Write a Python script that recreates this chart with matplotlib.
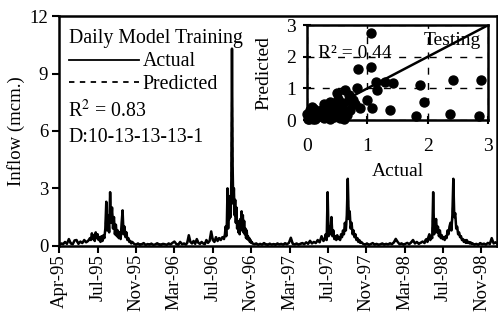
import numpy as np
import matplotlib
matplotlib.use('Agg')
import matplotlib.pyplot as plt

plt.rcParams['font.family'] = ['Liberation Serif', 'DejaVu Serif']
plt.rcParams['mathtext.fontset'] = 'stix'

#################################################################################
# data : daily inflow (days counted from 1-Apr-1995)
#################################################################################
days = np.concatenate([np.arange(0, 97, 6), np.arange(99, 229, 3), np.arange(234, 397, 6),
                       np.arange(400, 516, 5), np.arange(518, 605, 2), np.arange(610, 827, 6),
                       np.arange(830, 945, 3), np.arange(950, 1143, 6), np.arange(1145, 1290, 3),
                       np.arange(1292, 1371, 6)])

actual = [
    # Apr-95 .. Jul-95
    0.05, 0.12, 0.08, 0.20, 0.10, 0.35, 0.12, 0.08, 0.28, 0.30, 0.10, 0.22, 0.14, 0.30, 0.18, 0.25, 0.40,
    # 1995 flood
    0.3, 0.65, 0.35, 0.55, 0.25, 0.7, 0.4, 0.6, 0.3, 0.45,
    0.2, 0.5, 0.25, 0.55, 0.4, 0.9, 2.3, 0.8, 1.6, 0.7,
    2.8, 1.2, 2.0, 0.9, 1.5, 0.6, 1.1, 0.5, 0.8, 0.4,
    0.7, 0.35, 1.2, 1.85, 0.6, 1.0, 0.45, 0.7, 0.3, 0.4,
    0.2, 0.25, 0.12, 0.2,
    # dry season 95/96
    0.10, 0.06, 0.12, 0.05, 0.08, 0.14, 0.04, 0.09, 0.06, 0.11,
    0.05, 0.07, 0.13, 0.06, 0.04, 0.10, 0.08, 0.05, 0.12, 0.07,
    0.15, 0.22, 0.09, 0.05, 0.20, 0.08, 0.12, 0.06,
    0.15, 0.55, 0.2, 0.12, 0.25, 0.1, 0.35, 0.15, 0.1, 0.2,
    0.12, 0.08, 0.3, 0.15, 0.25, 0.75, 0.3, 0.2, 0.45, 0.25,
    0.4, 0.3, 0.45, 0.35,
    # 1996 flood
    0.6, 1.0, 0.5, 1.2, 3.0, 0.9, 2.2, 1.4, 2.6, 1.5,
    3.5, 10.3, 4.2, 2.2, 3.0, 1.6, 2.4, 1.2, 2.0, 0.9,
    1.3, 0.7, 1.0, 0.6, 1.4, 0.8, 1.8, 1.1, 1.6, 0.7,
    1.3, 0.6, 0.9, 0.4, 0.8, 0.35, 0.5, 0.3, 0.4, 0.2,
    0.3, 0.15, 0.2, 0.12,
    # dry season 96/97
    0.08, 0.12, 0.05, 0.10, 0.06, 0.14, 0.07, 0.05, 0.11, 0.06,
    0.09, 0.05, 0.12, 0.07, 0.10, 0.06, 0.13, 0.08, 0.15, 0.42,
    0.10, 0.07, 0.12, 0.06, 0.10, 0.14, 0.08, 0.18, 0.10, 0.26,
    0.12, 0.20, 0.14, 0.30, 0.18, 0.50, 0.25,
    # 1997 flood
    0.35, 0.6, 0.3, 2.8, 0.5, 1.0, 0.6, 1.5, 0.5, 0.8,
    0.35, 0.5, 0.3, 0.55, 0.35, 0.45, 0.3, 0.6, 0.45, 0.8,
    0.6, 1.2, 0.8, 1.6, 3.5, 1.4, 1.8, 0.9, 1.2, 0.6,
    0.8, 0.45, 0.6, 0.3, 0.4, 0.2, 0.3, 0.15, 0.2,
    # dry season 97/98
    0.10, 0.06, 0.12, 0.05, 0.09, 0.14, 0.06, 0.10, 0.05, 0.08,
    0.12, 0.06, 0.10, 0.07, 0.13, 0.08, 0.18, 0.36, 0.20, 0.08,
    0.12, 0.06, 0.10, 0.15, 0.08, 0.18, 0.30, 0.12, 0.20, 0.10,
    0.16, 0.22, 0.14,
    # 1998 flood
    0.3, 0.35, 0.2, 0.45, 0.6, 0.3, 0.5, 0.4, 2.8, 0.6,
    0.9, 1.4, 0.7, 1.0, 0.5, 0.8, 0.4, 0.55, 0.35, 0.45,
    0.3, 0.5, 0.4, 0.8, 0.6, 1.0, 1.2, 0.8, 1.6, 3.5,
    1.5, 1.7, 0.9, 1.0, 0.6, 0.7, 0.45, 0.5, 0.3, 0.35,
    0.2, 0.3, 0.15, 0.3, 0.15, 0.2, 0.12, 0.18, 0.1,
    # Oct-98 .. Dec-98
    0.12, 0.06, 0.10, 0.05, 0.14, 0.08, 0.11, 0.06, 0.15, 0.09, 0.40, 0.12, 0.18, 0.10,
]

predicted = [
    0.08, 0.10, 0.12, 0.15, 0.14, 0.28, 0.16, 0.12, 0.20, 0.24, 0.14, 0.20, 0.18, 0.25, 0.20, 0.26, 0.35,
    0.35, 0.5, 0.4, 0.5, 0.35, 0.6, 0.45, 0.55, 0.4, 0.45,
    0.3, 0.45, 0.3, 0.5, 0.45, 0.8, 1.9, 1.0, 1.5, 0.9,
    2.4, 1.4, 1.8, 1.1, 1.3, 0.8, 1.0, 0.7, 0.8, 0.6,
    0.7, 0.5, 1.0, 1.6, 0.8, 0.9, 0.6, 0.6, 0.4, 0.4,
    0.3, 0.25, 0.2, 0.2,
    0.12, 0.10, 0.11, 0.09, 0.10, 0.12, 0.08, 0.10, 0.09, 0.11,
    0.08, 0.09, 0.12, 0.10, 0.08, 0.10, 0.09, 0.08, 0.11, 0.09,
    0.13, 0.18, 0.10, 0.09, 0.16, 0.10, 0.12, 0.10,
    0.15, 0.4, 0.2, 0.15, 0.2, 0.12, 0.3, 0.18, 0.12, 0.18,
    0.14, 0.1, 0.25, 0.18, 0.25, 0.6, 0.35, 0.25, 0.4, 0.3,
    0.4, 0.35, 0.45, 0.4,
    0.6, 0.8, 0.7, 1.0, 2.5, 1.2, 1.9, 1.6, 2.2, 1.8,
    3.0, 9.6, 4.0, 2.5, 2.8, 2.0, 2.0, 1.5, 1.8, 1.1,
    1.2, 0.9, 1.0, 0.8, 1.2, 0.9, 1.5, 1.2, 1.4, 0.9,
    1.1, 0.8, 0.8, 0.6, 0.7, 0.5, 0.5, 0.4, 0.4, 0.3,
    0.3, 0.2, 0.2, 0.15,
    0.10, 0.11, 0.09, 0.10, 0.09, 0.12, 0.09, 0.08, 0.10, 0.09,
    0.10, 0.08, 0.11, 0.09, 0.10, 0.09, 0.12, 0.10, 0.14, 0.30,
    0.12, 0.10, 0.12, 0.09, 0.11, 0.13, 0.10, 0.16, 0.12, 0.22,
    0.14, 0.18, 0.15, 0.26, 0.20, 0.40, 0.28,
    0.35, 0.5, 0.4, 2.2, 0.7, 0.9, 0.7, 1.3, 0.6, 0.7,
    0.45, 0.5, 0.4, 0.5, 0.4, 0.45, 0.4, 0.55, 0.5, 0.7,
    0.65, 1.0, 0.9, 1.4, 3.0, 1.6, 1.6, 1.0, 1.1, 0.7,
    0.7, 0.5, 0.55, 0.4, 0.4, 0.3, 0.3, 0.2, 0.2,
    0.11, 0.09, 0.11, 0.08, 0.10, 0.12, 0.09, 0.10, 0.08, 0.09,
    0.11, 0.09, 0.10, 0.09, 0.12, 0.10, 0.16, 0.28, 0.18, 0.10,
    0.12, 0.09, 0.10, 0.13, 0.10, 0.16, 0.25, 0.14, 0.18, 0.12,
    0.15, 0.20, 0.16,
    0.3, 0.32, 0.25, 0.4, 0.5, 0.35, 0.45, 0.4, 2.2, 0.8,
    0.9, 1.2, 0.8, 0.9, 0.6, 0.7, 0.5, 0.5, 0.4, 0.45,
    0.35, 0.45, 0.45, 0.7, 0.65, 0.9, 1.1, 0.9, 1.4, 3.0,
    1.6, 1.5, 1.0, 0.95, 0.7, 0.65, 0.5, 0.5, 0.35, 0.35,
    0.25, 0.3, 0.2, 0.25, 0.18, 0.2, 0.15, 0.16, 0.12,
    0.12, 0.09, 0.10, 0.08, 0.12, 0.09, 0.10, 0.08, 0.13, 0.10, 0.30, 0.13, 0.16, 0.11,
]

tick_days = [0, 120, 240, 360, 480, 600, 720, 840, 960, 1080, 1200, 1320]
tick_labels = ['Apr-95', 'Jul-95', 'Nov-95', 'Mar-96', 'Jul-96', 'Nov-96',
               'Mar-97', 'Jul-97', 'Nov-97', 'Mar-98', 'Jul-98', 'Nov-98']

# testing scatter (actual, predicted)
test_act = [1.06, 0.84, 1.06, 2.42, 2.87, 1.87, 1.93, 1.38, 1.80, 2.36, 2.84, 1.15, 1.29, 1.43,
            1.16, 0.83, 0.99, 1.07, 0.88,
            0.50, 0.63, 0.69, 0.39, 0.33, 0.55, 0.72, 0.77, 0.44, 0.60, 0.52, 0.45, 0.28, 0.65,
            0.80, 0.70, 0.58, 0.35,
            0.06, 0.03, 0.11, 0.17, 0.02, 0.05, 0.08, 0.12, 0.15, 0.20, 0.22, 0.25, 0.30, 0.28,
            0.35, 0.40, 0.45, 0.50, 0.55, 0.60, 0.04, 0.10, 0.14, 0.18, 0.01, 0.07, 0.26, 0.32,
            0.38, 0.48, 0.62, 0.66, 0.42]
test_pred = [2.74, 1.61, 1.68, 1.26, 1.28, 1.10, 0.58, 0.32, 0.13, 0.18, 0.13, 1.21, 1.21, 1.18,
             0.95, 1.00, 0.63, 0.37, 0.37,
             0.84, 0.95, 0.79, 0.58, 0.42, 0.42, 0.32, 0.63, 0.32, 0.55, 0.65, 0.50, 0.50, 0.30,
             0.50, 0.60, 0.25, 0.30,
             0.32, 0.16, 0.21, 0.10, 0.05, 0.10, 0.40, 0.35, 0.25, 0.30, 0.15, 0.20, 0.15, 0.08,
             0.12, 0.20, 0.10, 0.15, 0.08, 0.12, 0.02, 0.05, 0.03, 0.22, 0.20, 0.25, 0.35, 0.25,
             0.05, 0.28, 0.05, 0.15, 0.40]

#################################################################################
# figure
#################################################################################
fig = plt.figure(figsize=(4.98, 3.29), dpi=100)
ax = fig.add_axes([0.119, 0.253, 0.878, 0.698])

l1, = ax.plot(days, actual, color='black', lw=1.8, label='Actual')
l2, = ax.plot(days, predicted, color='black', lw=1.2, ls=(0, (3, 3)), label='Predicted')

ax.set_xlim(0, 1367)
ax.set_ylim(0, 12)
ax.set_yticks([0, 3, 6, 9, 12])
ax.set_xticks(tick_days)
ax.set_xticklabels(tick_labels, rotation=90)
ax.tick_params(axis='both', direction='out', length=5, width=1.5, labelsize=13.5)
ax.tick_params(axis='x', pad=1)
ax.tick_params(axis='y', pad=3)
ax.set_ylabel('Inflow (mcm.)', fontsize=13.5, labelpad=3)
for sp in ax.spines.values():
    sp.set_linewidth(1.8)

leg = ax.legend(handles=[l1, l2], title='Daily Model Training', loc='upper left',
                frameon=False, fontsize=14.3, title_fontsize=14.3, handlelength=3.5,
                handletextpad=0.2, borderaxespad=0.1, labelspacing=0.2,
                alignment='left', bbox_to_anchor=(0.0, 0.985))
for h in leg.legend_handles:
    h.set_linewidth(1.3)
ax.text(0.02, 0.585, 'R$^{2}$ = 0.83', transform=ax.transAxes, fontsize=14.3, va='center')
ax.text(0.02, 0.47, 'D:10-13-13-13-1', transform=ax.transAxes, fontsize=14.3, va='center')

# inset : testing
ins = fig.add_axes([0.616, 0.635, 0.3647, 0.289])
ins.set_xlim(0, 3)
ins.set_ylim(0, 3)
ins.set_xticks([0, 1, 2, 3])
ins.set_yticks([0, 1, 2, 3])
ins.grid(True, color='black', ls=(0, (5, 6)), lw=1.0)
ins.plot([0, 3], [0, 3], color='black', lw=1.8, zorder=3)
ins.scatter(test_act, test_pred, s=42, color='black', zorder=4, clip_on=False)
ins.tick_params(axis='both', direction='inout', length=6, width=1.5, labelsize=14)
ins.tick_params(axis='x', pad=10)
ins.tick_params(axis='y', pad=5)
ins.set_xlabel('Actual', fontsize=14, labelpad=6)
ins.set_ylabel('Predicted', fontsize=14, labelpad=10)
ins.text(0.19, 2.1, 'R² = 0.44', fontsize=14, va='center', zorder=5)
ins.text(2.88, 2.52, 'Testing', fontsize=14, ha='right', va='center', zorder=5)
for sp in ins.spines.values():
    sp.set_linewidth(1.8)

fig.savefig('out.png', dpi=100)
